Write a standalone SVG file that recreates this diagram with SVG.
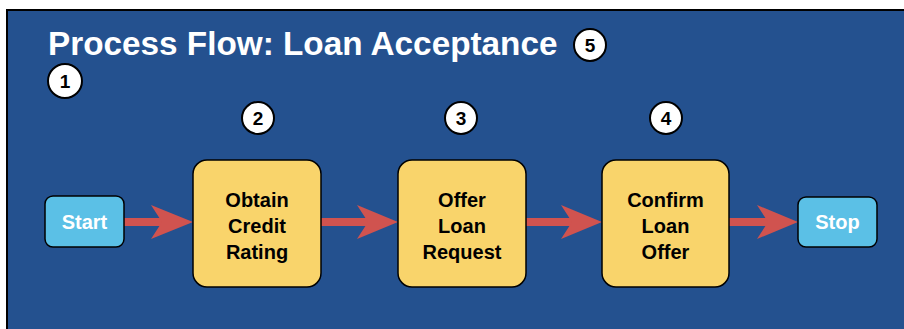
<svg xmlns="http://www.w3.org/2000/svg" width="904" height="329" viewBox="0 0 904 329">
<defs>
<style>
.panel{fill:#24518f;stroke:#000;stroke-width:2}
.title{font-family:"Liberation Sans",Arial,sans-serif;font-weight:bold;font-size:33.3px;fill:#fff}
.badge circle{fill:#fff;stroke:#000;stroke-width:2}
.badge text{font-family:"Liberation Sans",Arial,sans-serif;font-weight:bold;font-size:19px;fill:#000;text-anchor:middle}
.task rect{fill:#f9d46b;stroke:#000;stroke-width:1.5}
.task text{font-family:"Liberation Sans",Arial,sans-serif;font-weight:bold;font-size:20px;fill:#000;text-anchor:middle}
.term rect{fill:#5bc0e6;stroke:#000;stroke-width:1.5}
.term text{font-family:"Liberation Sans",Arial,sans-serif;font-weight:bold;font-size:20px;fill:#fff;text-anchor:middle}
.conn line{stroke:#d0534f;stroke-width:8}
.conn polygon{fill:#d0534f}
</style>
</defs>
<rect x="0" y="0" width="904" height="329" fill="#fff"/>
<rect class="panel" x="7" y="10" width="910" height="330"/>
<text class="title" x="48" y="55">Process Flow: Loan Acceptance</text>
<g id="badge5" class="badge"><circle cx="590" cy="45" r="16"/><text x="590" y="52">5</text></g>
<g id="badge1" class="badge"><circle cx="65" cy="81" r="17"/><text x="65" y="88">1</text></g>
<g id="badge2" class="badge"><circle cx="258" cy="118" r="16"/><text x="258" y="125">2</text></g>
<g id="badge3" class="badge"><circle cx="461" cy="118" r="16"/><text x="461" y="125">3</text></g>
<g id="badge4" class="badge"><circle cx="666" cy="118" r="16"/><text x="666" y="125">4</text></g>
<g id="connectors" class="conn">
<line x1="124" y1="222" x2="165" y2="222"/><polygon points="193,222 151,205 162,222 151,239"/>
<line x1="321" y1="222" x2="369" y2="222"/><polygon points="398,222 357,205 368,222 357,239"/>
<line x1="526" y1="222" x2="574" y2="222"/><polygon points="602,222 561,205 572,222 561,239"/>
<line x1="729" y1="222" x2="770" y2="222"/><polygon points="798,222 757,205 768,222 757,239"/>
</g>
<g id="start" class="term"><rect x="45" y="196" width="79" height="51" rx="8"/><text x="84.5" y="229">Start</text></g>
<g id="obtain" class="task"><rect x="193" y="160" width="128" height="127" rx="14"/><text x="257" y="207">Obtain</text><text x="257" y="233">Credit</text><text x="257" y="259">Rating</text></g>
<g id="offer" class="task"><rect x="398" y="160" width="128" height="127" rx="14"/><text x="462" y="207">Offer</text><text x="462" y="233">Loan</text><text x="462" y="259">Request</text></g>
<g id="confirm" class="task"><rect x="602" y="160" width="127" height="127" rx="14"/><text x="665.5" y="207">Confirm</text><text x="665.5" y="233">Loan</text><text x="665.5" y="259">Offer</text></g>
<g id="stop" class="term"><rect x="798" y="197" width="79" height="50" rx="8"/><text x="837.5" y="229">Stop</text></g>
</svg>
